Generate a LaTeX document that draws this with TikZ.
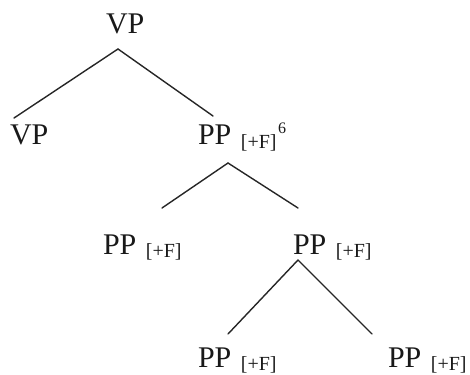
\documentclass[tikz,border=0pt]{standalone}
\usepackage{fontspec}
\setmainfont{Liberation Serif}
\newcommand{\featF}{\hspace{9.5pt}\raisebox{-3pt}{\fontsize{20}{20}\selectfont [+F]}}
\newcommand{\supsix}{\hspace{1.5pt}\raisebox{11pt}{\fontsize{16}{16}\selectfont 6}}
\tikzset{
  lbl/.style={anchor=base west, inner sep=0pt, outer sep=0pt, font=\fontsize{30}{36}\selectfont, text=black!90},
  branch/.style={line width=1.4pt, draw=black!85, line cap=round}
}
\begin{document}
\begin{tikzpicture}[x=1pt,y=-1pt]
\useasboundingbox (0,0) rectangle (470,374);
% labels
\node[lbl] (vptop) at (106,34) {VP};
\node[lbl] (vpleft) at (10,145) {VP};
\node[lbl] (ppsix) at (198,145) {PP\featF\supsix};
\node[lbl] (ppmidl) at (103,254) {PP\featF};
\node[lbl] (ppmidr) at (293,254) {PP\featF};
\node[lbl] (ppbotl) at (198,367) {PP\featF};
\node[lbl] (ppbotr) at (388,367) {PP\featF};
% branch points
\coordinate (a1) at (118,49);
\coordinate (l1) at (14,118);
\coordinate (r1) at (213,116);
\coordinate (a2) at (228,163);
\coordinate (l2) at (162,208);
\coordinate (r2) at (298,208);
\coordinate (a3) at (298,260);
\coordinate (l3) at (228,334);
\coordinate (r3) at (372,334);
\draw[branch] (l1) -- (a1) -- (r1);
\draw[branch] (l2) -- (a2) -- (r2);
\draw[branch] (l3) -- (a3) -- (r3);
\end{tikzpicture}
\end{document}
